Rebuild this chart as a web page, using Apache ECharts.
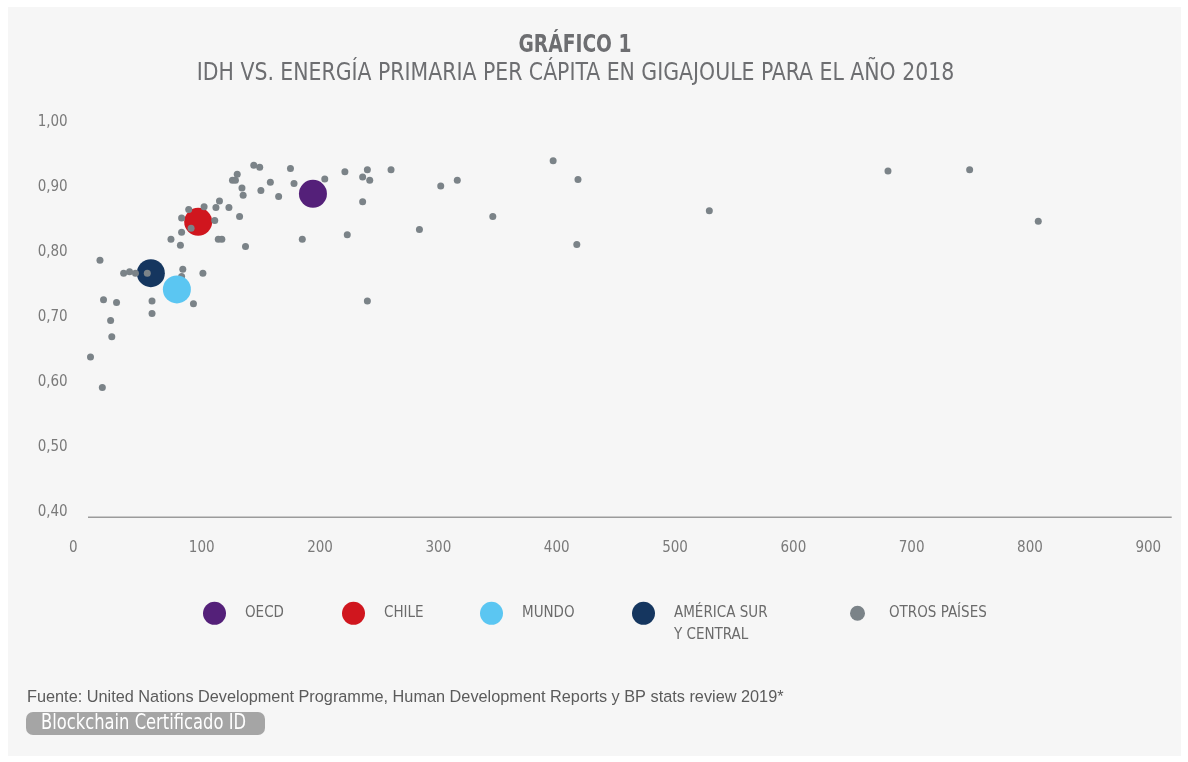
<!DOCTYPE html>
<html>
<head>
<meta charset="utf-8">
<script src="https://cdn.jsdelivr.net/npm/echarts@6/dist/echarts.min.js"></script>
<style>
html,body{margin:0;padding:0;background:#ffffff;}
#c{width:1188px;height:762px;}
</style>
</head>
<body>
<div id="c"></div>
<script>
// ---- data (energía primaria per cápita GJ, IDH) ----
const titleText = 'GRÁFICO 1';
const subtitleText = 'IDH VS. ENERGÍA PRIMARIA PER CÁPITA EN GIGAJOULE PARA EL AÑO 2018';
const sourceText = 'Fuente: United Nations Development Programme, Human Development Reports y BP stats review 2019*';
const badgeText = 'Blockchain Certificado ID';

const seriesNames = ['OECD', 'CHILE', 'MUNDO', 'AMÉRICA SUR\nY CENTRAL', 'OTROS PAÍSES'];
const oecd = [[194, 0.889]];
const chile = [[97, 0.846]];
const mundo = [[79, 0.742]];
const americaSur = [[57, 0.767]];
const otros = [
  [144, 0.933], [149, 0.930], [130, 0.919], [126, 0.910], [128.5, 0.910],
  [175, 0.928], [158, 0.907], [178, 0.905], [204, 0.912], [134, 0.898],
  [150, 0.894], [135, 0.887], [165, 0.885], [115, 0.878], [112, 0.868],
  [123, 0.868], [102, 0.869], [89, 0.865], [83, 0.852], [132, 0.854],
  [111, 0.848], [91, 0.836], [83, 0.830], [74, 0.819], [114, 0.819],
  [117, 0.819], [185, 0.819], [82, 0.810], [137, 0.808], [14, 0.787],
  [34, 0.767], [39, 0.769], [44, 0.767], [54, 0.767], [84, 0.773],
  [83, 0.762], [101, 0.767], [17, 0.726], [28, 0.722], [58, 0.724],
  [93, 0.720], [58, 0.705], [23, 0.694], [24, 0.669], [6, 0.638],
  [16, 0.591], [221, 0.923], [240, 0.926], [260, 0.926], [236, 0.915],
  [242, 0.910], [236, 0.877], [302, 0.901], [316, 0.910], [397, 0.940],
  [418, 0.911], [346, 0.854], [284, 0.834], [417, 0.811], [223, 0.826],
  [240, 0.724], [529, 0.863], [680, 0.924], [749, 0.926], [807, 0.847]
];
const xMin = 0, xMax = 900, xStep = 100;
const yMin = 0.4, yMax = 1.0, yStep = 0.1;

// ---- styles ----
const NARROW = "'Liberation Sans Narrow', 'DejaVu Sans Condensed', 'Liberation Sans', sans-serif";
const REG = "'Liberation Sans', Arial, sans-serif";
const colors = { oecd: '#542079', chile: '#d0161e', mundo: '#5bc6f2', america: '#15365f', otros: '#7b8388' };
const labelColor = '#7a7a7a';
const legendText = { color: '#6b6b6b', fontFamily: NARROW, fontSize: 15 };

const chart = echarts.init(document.getElementById('c'), null, { renderer: 'canvas' });

function legendFor(name, left, top, w, h, extra) {
  return Object.assign({
    data: [name], left: left, top: top, orient: 'horizontal', padding: 0,
    itemWidth: w, itemHeight: h, icon: 'circle', selectedMode: false,
    textStyle: Object.assign({}, legendText)
  }, extra || {});
}

const option = {
  backgroundColor: '#ffffff',
  animation: false,
  graphic: [
    { type: 'rect', z: -10, silent: true, shape: { x: 8, y: 7, width: 1173, height: 749 }, style: { fill: '#f6f6f6' } },
    { type: 'text', z: 5, x: 575, y: 45, scaleX: 0.83, style: { text: titleText, x: 0, y: 0, textAlign: 'center', textVerticalAlign: 'middle', fill: '#6d6e71', font: "bold 25px " + NARROW } },
    { type: 'text', z: 5, x: 575.5, y: 73, scaleX: 0.909, style: { text: subtitleText, x: 0, y: 0, textAlign: 'center', textVerticalAlign: 'middle', fill: '#6d6e71', font: "25px " + NARROW } },
    { type: 'line', z: 5, silent: true, shape: { x1: 88, y1: 517.3, x2: 1171.7, y2: 517.3 }, style: { stroke: '#9b9b9b', lineWidth: 1.5 } },
    { type: 'text', z: 5, x: 27, y: 698, style: { text: sourceText, x: 0, y: 0, textAlign: 'left', textVerticalAlign: 'middle', fill: '#5b5b5b', font: "16.3px " + REG } },
    { type: 'rect', z: 5, shape: { x: 26, y: 712, width: 239, height: 23, r: 7 }, style: { fill: '#a5a5a5' } },
    { type: 'text', z: 6, x: 41, y: 724, scaleX: 0.865, style: { text: badgeText, x: 0, y: 0, textAlign: 'left', textVerticalAlign: 'middle', fill: '#ffffff', font: "21px " + NARROW } }
  ],
  grid: { left: 83.4, right: 39.7, top: 121.7, bottom: 250.3, containLabel: false, outerBoundsMode: 'none' },
  xAxis: {
    type: 'value', min: xMin, max: xMax, interval: xStep,
    axisLine: { show: false }, axisTick: { show: false }, splitLine: { show: false },
    axisLabel: {
      color: labelColor, fontFamily: NARROW, fontSize: 15, margin: 28.5,
      formatter: function (v) { return v === 0 ? '{z|0}' : String(v); },
      rich: { z: { color: labelColor, fontFamily: NARROW, fontSize: 15, padding: [0, 20, 0, 0] } }
    }
  },
  yAxis: {
    type: 'value', min: yMin, max: yMax, interval: yStep,
    axisLine: { show: false }, axisTick: { show: false }, splitLine: { show: false },
    axisLabel: {
      color: labelColor, fontFamily: NARROW, fontSize: 15, margin: 15.7,
      formatter: function (v) { return v.toFixed(2).replace('.', ','); }
    }
  },
  legend: [
    legendFor(seriesNames[0], 203, 601.8, 51, 23),
    legendFor(seriesNames[1], 342, 601.8, 51, 23),
    legendFor(seriesNames[2], 480, 601.8, 51, 23),
    legendFor(seriesNames[3], 632, 580.3, 51, 23, {
      formatter: function (n) { return '\n' + n; },
      textStyle: Object.assign({}, legendText, { lineHeight: 22 })
    }),
    legendFor(seriesNames[4], 850, 605.8, 53, 15)
  ],
  series: [
    { name: seriesNames[0], type: 'scatter', data: oecd, symbol: 'circle', symbolSize: 28, itemStyle: { color: colors.oecd, opacity: 1 }, silent: true },
    { name: seriesNames[1], type: 'scatter', data: chile, symbol: 'circle', symbolSize: 28, itemStyle: { color: colors.chile, opacity: 1 }, silent: true },
    { name: seriesNames[3], type: 'scatter', data: americaSur, symbol: 'circle', symbolSize: 28, itemStyle: { color: colors.america, opacity: 1 }, silent: true },
    { name: seriesNames[4], type: 'scatter', data: otros, symbol: 'circle', symbolSize: 7, itemStyle: { color: colors.otros, opacity: 1 }, silent: true },
    { name: seriesNames[2], type: 'scatter', data: mundo, symbol: 'circle', symbolSize: 28, itemStyle: { color: colors.mundo, opacity: 1 }, silent: true }
  ]
};
chart.setOption(option);
</script>
</body>
</html>
